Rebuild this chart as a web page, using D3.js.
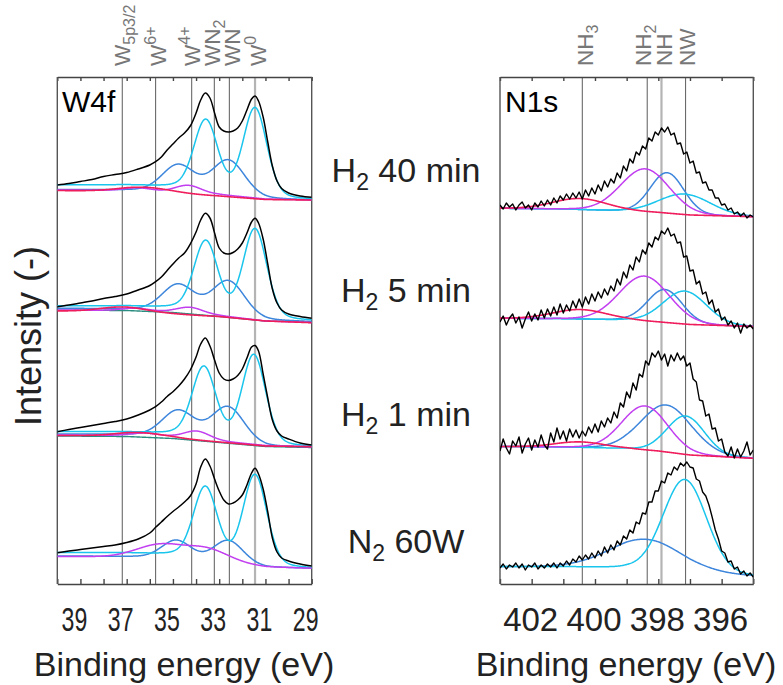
<!DOCTYPE html>
<html>
<head>
<meta charset="utf-8">
<script src="https://cdn.jsdelivr.net/npm/d3@7"></script>
<style>
  body { margin: 0; background: #fff; }
  text { font-family: "Liberation Sans", Arial, sans-serif; }
</style>
</head>
<body>
<script>
// ---------- W4f data (binding energy in eV, intensity in a.u., spectra stacked) ----------
const wE = [40, 39.5, 39, 38.5, 38, 37.5, 37, 36.5, 36, 35.75, 35.5, 35.25, 35, 34.75, 34.5, 34.25, 34,
  33.8, 33.6, 33.4, 33.2, 33, 32.8, 32.6, 32.4, 32.2, 32, 31.8, 31.6, 31.45, 31.3, 31.1, 30.9, 30.7, 30.5,
  30.3, 30, 29.5, 29];
const wData = [
  [399, 400.5, 402.5, 404.5, 407.5, 409.5, 411.5, 415, 419, 422.3, 427, 434, 440, 446, 451, 458, 471,
    484, 491, 486, 471, 457, 453, 452, 453, 456, 463, 474, 485, 488, 483, 467, 442, 418, 403, 395.5, 391, 388, 386.7],
  [277.3, 279, 281, 283, 285.5, 287.5, 290, 294, 298.5, 302.3, 307, 313.5, 320, 326, 331, 340, 352,
    364, 370.7, 366, 351, 336, 331, 330, 331.5, 335, 341, 351, 362, 365.7, 361, 345, 320, 295, 281, 274, 270, 267.5, 265.7],
  [152.3, 154.5, 156.5, 158.5, 160.5, 162.5, 165, 169, 174, 177.3, 182, 187.5, 192.3, 198, 205, 214, 227,
    240, 246, 238, 224, 211, 205, 203.5, 205, 208.5, 215, 226, 237, 238.5, 233, 210, 186, 164, 153, 148, 145, 141, 139],
  [31.3, 33, 34.5, 36, 37.5, 39, 41.5, 45, 51, 56.7, 62, 67.5, 72.5, 77, 82, 88, 100,
    117, 125, 118, 105, 93, 84, 80, 81, 84, 89, 99, 111, 115.7, 110, 95, 72, 46, 32, 26, 23, 20, 18]
];
// fitted components: background knots + peaks [centre eV, height, fwhm eV]
const wBgE = [40, 37, 35, 33, 31, 29];
const wCyanBg = [
  [399, 399, 397.5, 392.5, 386.5, 384.5],
  [278, 278, 276.5, 271.5, 265.5, 263.3],
  [152.3, 152, 150.5, 145.5, 139.5, 137.3],
  [31.3, 31, 29.5, 24.5, 18, 15.7]
];
const wCyanPk = [
  [[31.45, 88, 1.2], [33.58, 70, 1.2]],
  [[31.45, 88, 1.2], [33.58, 70, 1.2]],
  [[31.5, 88, 1.2], [33.66, 70, 1.2]],
  [[31.45, 89.5, 1.2], [33.6, 71, 1.2]]
];
const wBlueBg = [
  [394.5, 394, 392.5, 389.5, 385.5, 384],
  [275.7, 275, 273.5, 269, 264, 262.3],
  [150, 149.5, 147.5, 143, 138, 136.7],
  [28, 27.5, 26, 22, 17, 15.7]
];
const wBluePk = [
  [[32.6, 35, 1.65], [34.76, 27, 1.65]],
  [[32.6, 35, 1.65], [34.76, 26.5, 1.65]],
  [[32.62, 35, 1.65], [34.76, 26.5, 1.65]],
  [[32.6, 22.5, 1.5], [34.84, 18, 1.5]]
];
const wMagBg = [
  [394, 393.5, 392, 389.5, 385, 384],
  [274, 273.5, 272, 268.5, 263, 261.5],
  [149, 148.5, 147, 143, 138.5, 137.3],
  [27.3, 27, 25, 21, 17, 15.7]
];
const wMagPk = [
  [[34.34, 7.5, 1.3], [36.5, 3, 1.4]],
  [[34.26, 6, 1.3], [36.6, 2.5, 1.4]],
  [[33.97, 8, 1.3], [36.2, 3, 1.4]],
  [[35.6, 13, 2.3], [33.55, 13, 2.3]]
];
const wRedBg = [
  [393.5, 392.5, 390.5, 388, 384.5, 384],
  [273, 272, 270, 267.5, 263, 261.3],
  [148.5, 148, 146, 142, 138, 137.3]
];
const wRedPk = [[[36.2, 5, 2.6]], [[37.15, 5, 2.4]], [[36.4, 4, 2.4]]];
const wTealBg = [null, [273.8, 273.5, 271.5, 267.5, 263, 262.3], [148, 147.5, 145.5, 141.5, 137.5, 136.5]];

// ---------- N1s data (0.1 eV steps from 403 to 395 eV) ----------
const nData = [
  [379, 375, 381, 377, 380, 374, 379, 382, 376, 379, 374, 381, 377, 383, 378, 384, 379, 386, 381, 388,
    384, 390, 385, 391, 386, 392, 385, 394, 388, 396, 390, 399, 393, 403, 397, 405, 401, 411, 406, 418,
    413, 425, 421, 432, 429, 438, 435, 446, 443, 452, 449, 456, 452, 457, 449, 451, 440, 441, 430, 432,
    421, 423, 411, 412, 401, 402, 394, 394, 386, 386, 379, 380, 374, 376, 370, 372, 368, 371, 366, 369, 367],
  [262, 268, 259, 266, 270, 261, 267, 256, 265, 272, 263, 270, 264, 274, 266, 275, 268, 277, 269, 280,
    271, 279, 273, 283, 276, 285, 277, 287, 280, 290, 283, 292, 286, 295, 289, 298, 293, 305, 299, 312,
    306, 319, 314, 327, 322, 334, 330, 341, 337, 347, 344, 353, 350, 356, 348, 350, 341, 342, 327, 328,
    313, 314, 300, 303, 290, 292, 280, 284, 272, 275, 264, 267, 259, 263, 256, 261, 251, 260, 256, 259, 255],
  [133, 145, 136, 130, 143, 138, 147, 131, 140, 146, 134, 144, 137, 149, 139, 135, 151, 142, 156, 145,
    153, 143, 155, 147, 154, 146, 153, 148, 157, 151, 160, 152, 163, 157, 166, 161, 172, 166, 181, 177,
    192, 186, 201, 194, 210, 207, 223, 219, 231, 227, 233, 224, 230, 218, 229, 223, 231, 224, 228, 218,
    221, 205, 202, 184, 183, 168, 170, 155, 156, 143, 145, 132, 128, 137, 126, 135, 127, 133, 142, 129, 134],
  [16, 20, 15, 19, 17, 21, 16, 20, 14, 19, 17, 21, 15, 19, 16, 20, 17, 21, 16, 21,
    18, 23, 19, 25, 22, 28, 24, 29, 25, 31, 26, 33, 28, 37, 31, 39, 34, 43, 39, 48,
    45, 54, 51, 62, 60, 71, 70, 82, 82, 93, 93, 103, 101, 111, 109, 117, 114, 121, 118, 122,
    117, 116, 105, 103, 92, 88, 79, 67, 54, 45, 33, 31, 22, 23, 15, 17, 10, 13, 8, 11, 7]
];
const nBgE = [403, 401, 399, 398, 397, 395];
const nBg = [
  [375.7, 375, 373, 371.5, 369, 367.3],
  [265.7, 265.3, 264, 262, 259.5, 257.5],
  [137.5, 137, 135.5, 133, 129, 125.7],
  [17.3, 17.3, 16.5, 14, 10.5, 8]
];
const nMagPk = [[398.42, 43, 1.8], [398.44, 45, 1.85], [398.42, 44, 1.7], null];
const nBluePk = [[397.72, 40.5, 1.25], [397.79, 33, 1.3], [397.74, 47, 1.9], [398.37, 29.7, 2.7]];
const nCyanPk = [[397.16, 20.5, 1.9], [397.16, 33, 1.6], [397.13, 38.5, 1.4], [397.16, 93.5, 1.6]];
const nRedPk = [[400.47, 11, 2.0], [400.47, 9.5, 2.0], [400.47, 5.5, 1.8], null];

// reference lines
const wLines = [37.19, 35.75, 34.19, 33.21, 32.56, 31.45];
const wLineNames = [["W", "5p3/2", "sub"], ["W", "6+", "sup"], ["W", "4+", "sup"], ["WN", "2", "sub"], ["WN", "", ""], ["W", "0", "sup"]];
const nLines = [400.4, 398.35, 397.9, 397.14];
const nLineNames = [["NH", "3", "sub"], ["NH", "2", "sub"], ["NH", "", ""], ["NW", "", ""]];
const wTicks = [39, 37, 35, 33, 31, 29];
const nTicks = [402, 400, 398, 396];
const conditions = [["H", "2", " 40 min"], ["H", "2", " 5 min"], ["H", "2", " 1 min"], ["N", "2", " 60W"]];

const colors = { cyan: "#19c5ec", blue: "#3d86dc", mag: "#c23ff0", red: "#ef1d5c", teal: "#2b8c80" };

const svg = d3.select("body").append("svg").attr("width", 783).attr("height", 685);

const xW = d3.scaleLinear().domain([40, 29]).range([57.3, 311.7]);
const xN = d3.scaleLinear().domain([403, 395]).range([500, 753.3]);
const y = d3.scaleLinear().domain([0, 507]).range([584, 77]);

function pv(e, p, mix) {
  const d = (e - p[0]) / p[2];
  return p[1] * ((1 - mix) * Math.exp(-4 * Math.LN2 * d * d) + mix / (1 + 4 * d * d));
}

function comp(bgE, bgV, peaks, dom, mix) {
  const bg = d3.scaleLinear().domain(bgE).range(bgV);
  const es = d3.range(dom[0], dom[1] - 0.001, -0.02);
  return es.map(e => [e, bg(e) + d3.sum(peaks, p => pv(e, p, mix))]);
}

function panel(id, x, lines, names, labelDx, lightIdx) {
  const [x0, x1] = x.range();
  svg.append("clipPath").attr("id", id).append("rect")
    .attr("x", x0).attr("y", y(507)).attr("width", x1 - x0).attr("height", y(0) - y(507));
  const g = svg.append("g");
  // reference lines and their labels
  lines.forEach((v, i) => {
    g.append("line").attr("x1", x(v)).attr("x2", x(v)).attr("y1", y(0)).attr("y2", y(507))
      .attr("stroke", i === lightIdx ? "#b4b4b4" : "#6a6a6a")
      .attr("stroke-width", i === lightIdx ? 2.2 : 1.1);
    const t = g.append("text").attr("transform", `translate(${x(v) + labelDx[i] + 8},66) rotate(-90)`)
      .attr("fill", "#777").attr("font-size", 22.5);
    t.append("tspan").text(names[i][0]);
    if (names[i][1]) {
      const dy = names[i][2] === "sub" ? 5 : -10;
      t.append("tspan").attr("font-size", 16).attr("dy", dy).text(names[i][1]);
    }
  });
  // box and ticks
  const tv = d3.range(Math.ceil(x.domain()[1]), x.domain()[0] + 1);
  g.append("g").attr("transform", `translate(0,${y(0)})`)
    .call(d3.axisBottom(x).tickValues(tv).tickSize(-5).tickSizeOuter(0).tickFormat(""));
  g.append("g").attr("transform", `translate(0,${y(507)})`)
    .call(d3.axisTop(x).tickValues(tv).tickSize(-4).tickSizeOuter(0).tickFormat(""));
  g.selectAll(".domain, .tick line").attr("stroke", "#444").attr("stroke-width", 1.4);
  [x0, x1].forEach(px => g.append("line").attr("x1", px).attr("x2", px).attr("y1", y(0)).attr("y2", y(507))
    .attr("stroke", "#555").attr("stroke-width", 1.4));
  return svg.append("g").attr("clip-path", `url(#${id})`);
}

function curve(g, x, pts, color, width, kind) {
  g.append("path").datum(pts)
    .attr("fill", "none").attr("stroke", color).attr("stroke-width", width).attr("stroke-linejoin", "round")
    .attr("d", d3.line().x(d => x(d[0])).y(d => y(d[1])).curve(kind || d3.curveLinear));
}

// ---------- W4f panel ----------
const gW = panel("clipW", xW, wLines, wLineNames, [0, 2, 0, -2.5, 3, 2.5], 5);
for (let s = 0; s < 4; s++) {
  if (wTealBg[s]) curve(gW, xW, comp(wBgE, wTealBg[s], [], [40, 29], 0), colors.teal, 1.4);
  curve(gW, xW, comp(wBgE, wBlueBg[s], wBluePk[s], [40, 29], 0.12), colors.blue, 1.5);
  curve(gW, xW, comp(wBgE, wCyanBg[s], wCyanPk[s], [40, 29], 0.15), colors.cyan, 1.5);
  curve(gW, xW, comp(wBgE, wMagBg[s], wMagPk[s], [40, 29], 0.1), colors.mag, 1.5);
  if (wRedBg[s]) curve(gW, xW, comp(wBgE, wRedBg[s], wRedPk[s], [40, 29], 0), colors.red, 1.6);
  curve(gW, xW, wE.map((e, i) => [e, wData[s][i]]), "#000", 1.5, d3.curveCatmullRom);
}

// ---------- N1s panel ----------
const gN = panel("clipN", xN, nLines, nLineNames, [2.7, -4, 2.5, 1], 2);
const nE = d3.range(81).map(i => 403 - i * 0.1);
for (let s = 0; s < 4; s++) {
  curve(gN, xN, comp(nBgE, nBg[s], [nBluePk[s]], [403, 395], 0.05), colors.blue, 1.5);
  curve(gN, xN, comp(nBgE, nBg[s], [nCyanPk[s]], [403, 395], 0.05), colors.cyan, 1.5);
  if (nMagPk[s]) curve(gN, xN, comp(nBgE, nBg[s], [nMagPk[s]], [403, 395], 0.05), colors.mag, 1.5);
  if (nRedPk[s]) curve(gN, xN, comp(nBgE, nBg[s], [nRedPk[s]], [403, 395], 0.05), colors.red, 1.6);
  curve(gN, xN, nE.map((e, i) => [e, nData[s][i]]), "#000", 1.4);
}

// ---------- texts ----------
svg.append("text").attr("x", 62).attr("y", 111.5).attr("font-size", 30).text("W4f");
svg.append("text").attr("x", 505).attr("y", 111.5).attr("font-size", 30).text("N1s");

wTicks.forEach(v => svg.append("text")
  .attr("transform", `translate(${xW(v) - 6},631) scale(0.7,1)`)
  .attr("text-anchor", "middle").attr("font-size", 33).attr("fill", "#222").text(v));
nTicks.forEach(v => svg.append("text")
  .attr("x", xN(v) - 1).attr("y", 631)
  .attr("text-anchor", "middle").attr("font-size", 33).attr("fill", "#222").text(v));

svg.append("text").attr("x", 184).attr("y", 676).attr("text-anchor", "middle").attr("font-size", 34).attr("fill", "#222").text("Binding energy (eV)");
svg.append("text").attr("x", 626).attr("y", 676).attr("text-anchor", "middle").attr("font-size", 34).attr("fill", "#222").text("Binding energy (eV)");
svg.append("text").attr("transform", "translate(41,336) rotate(-90)").attr("text-anchor", "middle")
  .attr("font-size", 36).attr("fill", "#222").text("Intensity (-)");

const condY = [182, 302, 426, 553];
conditions.forEach((c, i) => {
  const t = svg.append("text").attr("x", 406).attr("y", condY[i]).attr("text-anchor", "middle")
    .attr("font-size", 34).attr("fill", "#222");
  t.append("tspan").text(c[0]);
  t.append("tspan").attr("font-size", 23).attr("dy", 8).text(c[1]);
  t.append("tspan").attr("dy", -8).text(c[2]);
});
</script>
</body>
</html>
